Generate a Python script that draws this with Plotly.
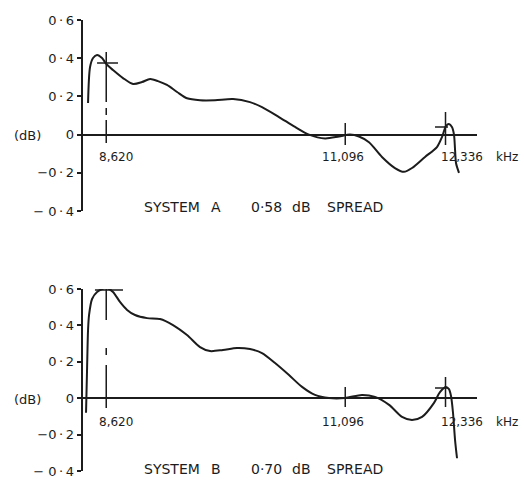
import math
import plotly.graph_objects as go

# ---------------- data (frequency in kHz, level in dB) ----------------
freq_a = [8456, 8474, 8501, 8537, 8582, 8620, 8682, 8774, 8868, 8952, 9029, 9104,
          9191, 9290, 9388, 9518, 9670, 9856, 10034, 10162, 10346, 10523, 10679,
          10862, 11023, 11152, 11258, 11378, 11535, 11694, 11806, 11907, 12072,
          12225, 12290, 12342, 12381, 12420, 12447, 12461, 12474, 12513]
db_a = [0.165, 0.354, 0.401, 0.417, 0.401, 0.370, 0.338, 0.296, 0.265, 0.275, 0.291, 0.280,
        0.260, 0.223, 0.190, 0.180, 0.180, 0.186, 0.170, 0.144, 0.092, 0.040, 0.000,
        -0.020, -0.010, 0.000, -0.010, -0.040, -0.117, -0.175, -0.195, -0.175, -0.117,
        -0.065, -0.013, 0.045, 0.055, 0.040, 0.000, -0.080, -0.150, -0.200]

freq_b = [8438, 8447, 8456, 8465, 8492, 8537, 8620, 8682, 8746, 8812, 8886, 9000,
          9124, 9250, 9388, 9518, 9619, 9751, 9897, 10034, 10162, 10303, 10456,
          10601, 10747, 10907, 11093, 11294, 11450, 11622, 11782, 11907, 12034,
          12187, 12264, 12342, 12381, 12408, 12434, 12461, 12487]
db_b = [-0.080, 0.155, 0.375, 0.457, 0.545, 0.584, 0.606, 0.584, 0.529, 0.485, 0.457, 0.440,
        0.435, 0.402, 0.347, 0.281, 0.259, 0.265, 0.276, 0.270, 0.248, 0.193, 0.127,
        0.062, 0.018, 0.001, 0.001, 0.018, 0.007, -0.037, -0.103, -0.120, -0.103,
        -0.026, 0.034, 0.062, 0.050, 0.012, -0.080, -0.230, -0.330]

marker_freqs = [8620, 11096, 12336]
marker_labels = ["8,620", "11,096", "12,336"]
y_ticks = [-0.4, -0.2, 0, 0.2, 0.4, 0.6]
T = "\u2009"
y_ticktext = ["\u2212 0" + T + "\u00b7" + T + "4", "\u22120" + T + "\u00b7" + T + "2", "0",
              "0" + T + "\u00b7" + T + "2", "0" + T + "\u00b7" + T + "4", "0" + T + "\u00b7" + T + "6"]
title_words_a = ["SYSTEM", "A", "0\u00b758", "dB", "SPREAD"]
title_words_b = ["SYSTEM", "B", "0\u00b770", "dB", "SPREAD"]

# marker geometry (dB extents) for each panel
mk_a = {"main": (0.432, -0.044), "bar_y": 0.375, "bar_x": (8537, 8728),
        "m2": (0.061, -0.054), "m3": (0.118, -0.054), "bar3_y": 0.040, "bar3_x": (12200, 12369)}
mk_b = {"main": (0.660, -0.054), "bar_y": 0.595, "bar_x": (8518, 8774),
        "m2": (0.062, -0.048), "m3": (0.116, -0.048), "bar3_y": 0.056, "bar3_x": (12200, 12369)}

INK = "#1c1c1c"
FONT = "DejaVu Sans"
W, H = 524, 481


def xp(px):
    return px / W


def yp(py):
    return 1 - py / H


fig = go.Figure()
fig.add_trace(go.Scatter(x=freq_a, y=db_a, mode="lines", xaxis="x", yaxis="y",
                         line=dict(color=INK, width=2, shape="spline", smoothing=0.8),
                         showlegend=False, hoverinfo="skip"))
fig.add_trace(go.Scatter(x=freq_b, y=db_b, mode="lines", xaxis="x2", yaxis="y2",
                         line=dict(color=INK, width=2, shape="spline", smoothing=0.8),
                         showlegend=False, hoverinfo="skip"))

xr = [3.92462, 4.10562]
xdom = [xp(82.5), xp(477)]
xcommon = dict(type="log", range=xr, domain=xdom, visible=False, showgrid=False,
               automargin=False, fixedrange=True)
ycommon = dict(range=[-0.4, 0.6], tickvals=y_ticks, ticktext=y_ticktext, showgrid=False,
               showline=True, linecolor=INK, linewidth=1.6, ticks="outside", ticklen=4,
               tickwidth=1.5, tickcolor=INK, zeroline=True, zerolinecolor=INK,
               zerolinewidth=1.6, tickfont=dict(family=FONT, size=13, color=INK),
               automargin=False, fixedrange=True)

fig.update_layout(
    width=W, height=H, margin=dict(l=0, r=0, t=0, b=0, pad=0, autoexpand=False),
    paper_bgcolor="white", plot_bgcolor="white",
    xaxis=dict(**xcommon, anchor="y"),
    yaxis=dict(**ycommon, domain=[yp(211), yp(20)], anchor="x"),
    xaxis2=dict(**xcommon, anchor="y2"),
    yaxis2=dict(**ycommon, domain=[yp(471), yp(289)], anchor="x2"),
)

shapes = []
annotations = []
panels = [("x", "y", mk_a, -22, 135, title_words_a, 207, "50px,6px,7px,5px,300px"),
          ("x2", "y2", mk_b, -24, 399, title_words_b, 469, "42px,28px,7px,10px,300px")]
label_shift = [10, -2, 16]
word_centers = [172, 216, 266, 301, 355]
for xa, ya, mk, yshift, dby, words, ty, dash in panels:
    ln = dict(color=INK, width=1.5)
    shapes.append(dict(type="line", xref=xa, yref=ya, x0=marker_freqs[0], x1=marker_freqs[0],
                       y0=mk["main"][0], y1=mk["main"][1], line=dict(color=INK, width=1.5, dash=dash)))
    shapes.append(dict(type="line", xref=xa, yref=ya, x0=mk["bar_x"][0], x1=mk["bar_x"][1],
                       y0=mk["bar_y"], y1=mk["bar_y"], line=ln))
    shapes.append(dict(type="line", xref=xa, yref=ya, x0=marker_freqs[1], x1=marker_freqs[1],
                       y0=mk["m2"][0], y1=mk["m2"][1], line=ln))
    shapes.append(dict(type="line", xref=xa, yref=ya, x0=marker_freqs[2], x1=marker_freqs[2],
                       y0=mk["m3"][0], y1=mk["m3"][1], line=ln))
    shapes.append(dict(type="line", xref=xa, yref=ya, x0=mk["bar3_x"][0], x1=mk["bar3_x"][1],
                       y0=mk["bar3_y"], y1=mk["bar3_y"], line=ln))
    for f, lab, sh in zip(marker_freqs, marker_labels, label_shift):
        annotations.append(dict(xref=xa, yref=ya, x=math.log10(f), y=0, text=lab,
                                showarrow=False, xshift=sh, yshift=yshift,
                                xanchor="center", yanchor="middle",
                                font=dict(family=FONT, size=12, color=INK)))
    annotations.append(dict(xref="paper", yref=ya, x=xp(507), y=0, text="kHz",
                            showarrow=False, yshift=yshift, xanchor="center", yanchor="middle",
                            font=dict(family=FONT, size=12, color=INK)))
    annotations.append(dict(xref="paper", yref="paper", x=xp(27), y=yp(dby), text="(dB)",
                            showarrow=False, xanchor="center", yanchor="middle",
                            font=dict(family=FONT, size=13, color=INK)))
    for wd, cx in zip(words, word_centers):
        annotations.append(dict(xref="paper", yref="paper", x=xp(cx), y=yp(ty), text=wd,
                                showarrow=False, xanchor="center", yanchor="middle",
                                font=dict(family=FONT, size=14, color=INK)))

fig.update_layout(shapes=shapes, annotations=annotations)
fig.write_html("out.html", config={"displayModeBar": False},
               post_script="document.body.style.margin='0';")
